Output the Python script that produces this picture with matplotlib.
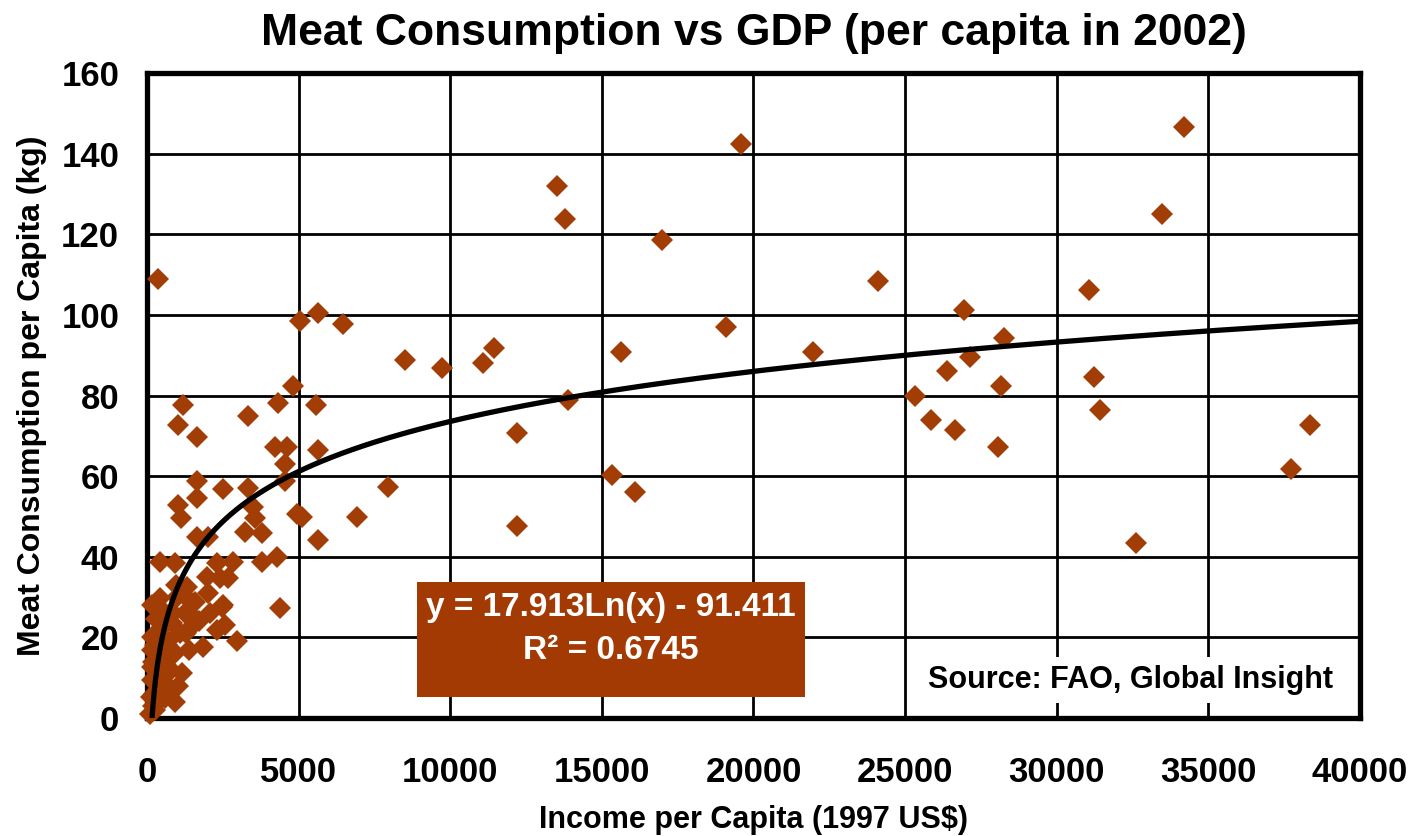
import numpy as np
import matplotlib.pyplot as plt
from matplotlib.patches import Rectangle

plt.rcParams['font.family'] = ['Liberation Sans', 'DejaVu Sans']
plt.rcParams['font.weight'] = 'bold'
plt.rcParams['axes.labelweight'] = 'bold'

# income per capita (1997 US$) and meat consumption per capita (kg)
income = [350, 5640, 5050, 6470, 4820, 1190, 5580, 4320, 1020, 1650,
          3330, 4220, 4620, 5640, 4550, 4550, 1650, 1650, 1020, 1120,
          2510, 3330, 3500, 3560, 3230, 3800, 1650, 2010, 4950, 5120,
          430, 920, 2310, 2840, 3800, 4290, 1980, 2410, 2670, 1320,
          430, 4390, 2510, 8510, 9740, 11090, 11450, 7950, 6930, 5640,
          13530, 13800, 13890, 12210, 12210, 15350, 15640, 16100, 16990, 19110,
          19600, 21950, 24090, 25340, 25840, 26370, 26660, 26930, 27130, 28050,
          28150, 28250, 31050, 31220, 31420, 32600, 33460, 34190, 37720, 38350]
meat = [109, 100.5, 98.5, 97.8, 82.4, 77.7, 77.7, 78.2, 72.7, 69.7,
        74.9, 67.2, 67.2, 66.5, 63.0, 58.8, 58.8, 54.6, 52.9, 49.6,
        56.8, 57.0, 52.4, 49.6, 46.2, 45.9, 44.9, 44.9, 50.6, 49.9,
        38.7, 38.5, 38.5, 38.7, 38.7, 40.0, 35.0, 34.7, 34.7, 32.5,
        29.8, 27.3, 28.0, 88.8, 86.8, 88.1, 91.8, 57.3, 49.9, 44.2,
        132.0, 123.8, 78.9, 70.7, 47.6, 60.3, 90.8, 56.1, 118.6, 97.0,
        142.5, 90.8, 108.4, 79.9, 73.9, 86.1, 71.5, 101.2, 89.6, 67.2,
        82.4, 94.3, 106.2, 84.6, 76.4, 43.4, 125.1, 146.6, 61.8, 72.7]

# the dense cluster of low-income countries
income_low = [165, 430, 300, 500, 830, 1090, 165, 250, 165, 590,
              920, 1390, 1150, 730, 150, 920, 260, 120, 165, 400,
              600, 200, 700, 1250, 1580, 1220, 1000, 1400, 1700, 1850,
              2310, 2970, 2480, 2000, 2080, 2570, 860, 200, 350, 500,
              800, 1020, 110, 650, 300, 450, 1300, 1500, 950, 240]
meat_low = [28.0, 24.0, 24.5, 22.6, 23.6, 21.0, 20.0, 18.0, 16.9, 13.6,
            16.1, 16.9, 11.2, 7.7, 12.7, 4.0, 2.0, 5.2, 9.4, 10.0,
            5.0, 14.0, 19.0, 26.0, 28.8, 30.5, 30.0, 22.0, 24.0, 17.6,
            21.8, 19.1, 27.5, 31.0, 26.0, 23.0, 26.0, 3.0, 7.0, 15.0,
            12.0, 8.0, 1.0, 18.0, 12.0, 27.0, 21.0, 25.0, 33.0, 6.0]

# logarithmic trendline shown on the chart
slope, intercept = 17.913, -91.411
trend_start, trend_end = 165, 40000

xticks = np.arange(0, 40001, 5000)
yticks = np.arange(0, 161, 20)

marker_color = '#A33D06'

fig = plt.figure(figsize=(14.15, 8.36), dpi=100)
ax = fig.add_axes([0.1039, 0.1411, 0.8572, 0.7716])

ax.set_xlim(0, 40000)
ax.set_ylim(0, 160)
ax.set_xticks(xticks)
ax.set_yticks(yticks)
ax.grid(color='black', linewidth=2.0, zorder=0)
ax.set_axisbelow(True)
for sp in ax.spines.values():
    sp.set_linewidth(3.8)
ax.tick_params(length=0, labelsize=25)
ax.tick_params(axis='x', pad=27)
ax.tick_params(axis='y', pad=20)

ax.plot(income_low + income, meat_low + meat, 'D', color=marker_color,
        markersize=11, markeredgewidth=0, zorder=3, clip_on=False)

tx = np.geomspace(trend_start, trend_end, 400)
ax.plot(tx, slope * np.log(tx) + intercept, color='black', linewidth=3.8, zorder=4)

# equation box
ax.add_patch(Rectangle((0.2226, 0.0326), 0.320, 0.178, transform=ax.transAxes,
                       facecolor='#A33A03', edgecolor='none', zorder=5))
ax.text(0.3825, 0.172, 'y = 17.913Ln(x) - 91.411', transform=ax.transAxes,
        ha='center', va='center', color='white', fontsize=24, zorder=6)
ax.text(0.3825, 0.105, 'R² = 0.6745', transform=ax.transAxes,
        ha='center', va='center', color='white', fontsize=24, zorder=6)

ax.text(0.811, 0.059, 'Source: FAO, Global Insight', transform=ax.transAxes,
        ha='center', va='center', fontsize=22, zorder=6,
        bbox=dict(facecolor='white', edgecolor='none', pad=6))

ax.set_title('Meat Consumption vs GDP (per capita in 2002)', fontsize=32,
             fontweight='bold', pad=20)
ax.set_xlabel('Income per Capita (1997 US$)', fontsize=22, labelpad=12)
ax.set_ylabel('Meat Consumption per Capita (kg)', fontsize=23, labelpad=10)

fig.savefig('out.png', dpi=100)
